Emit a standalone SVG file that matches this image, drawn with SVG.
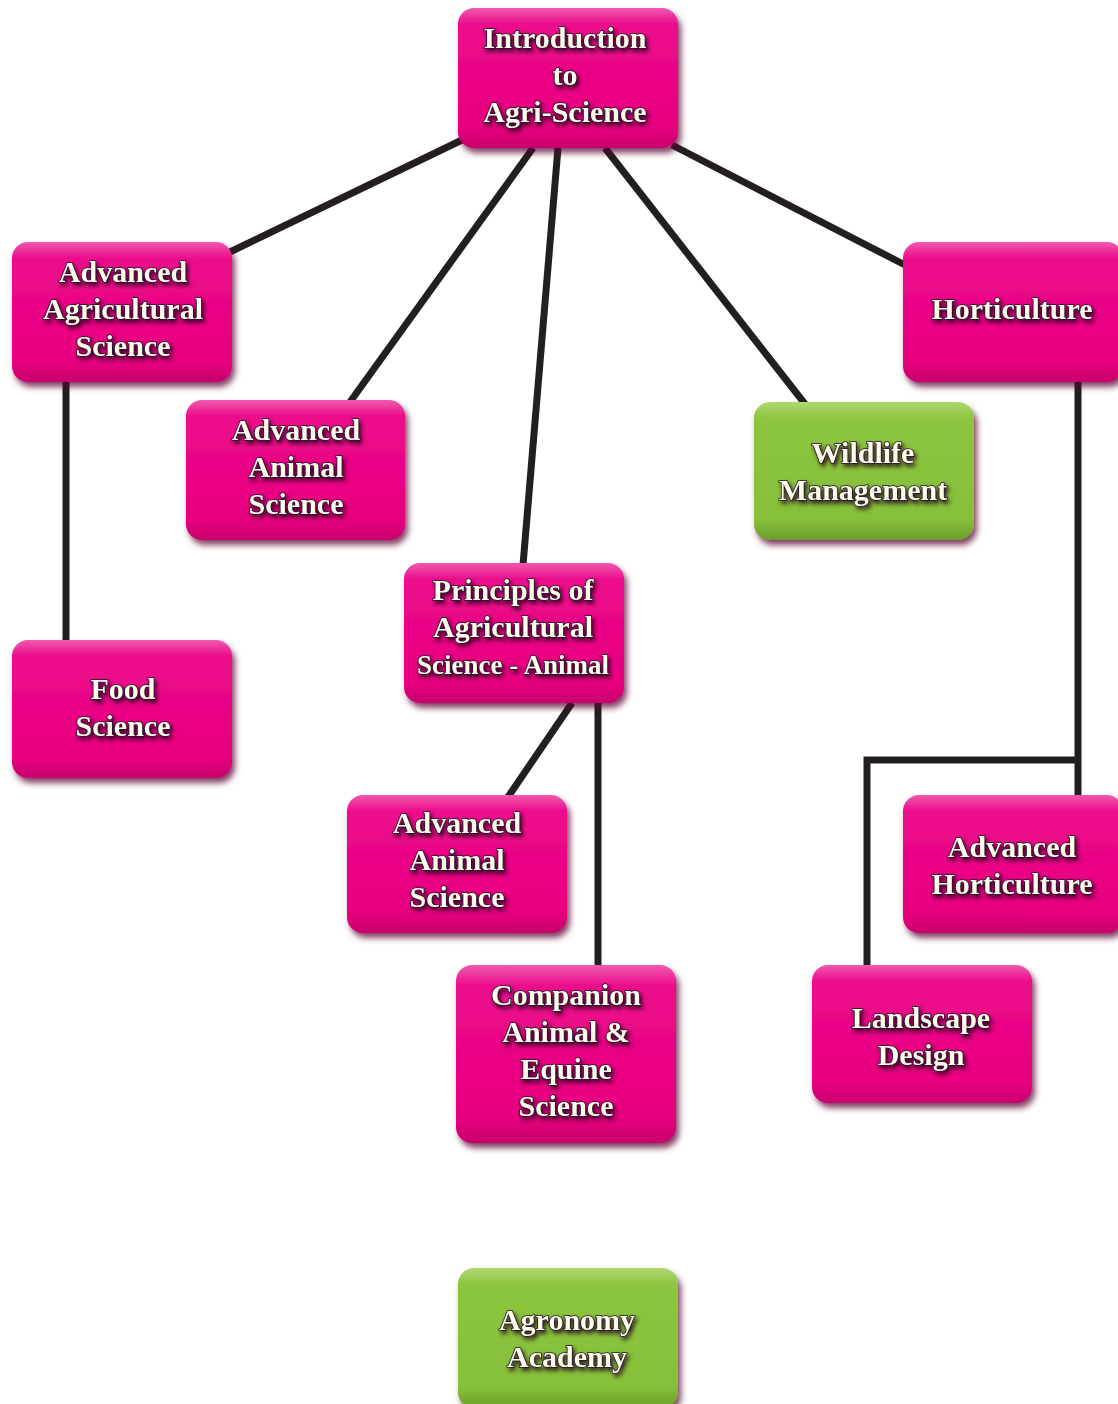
<svg xmlns="http://www.w3.org/2000/svg" width="1118" height="1404" viewBox="0 0 1118 1404">
<defs>
<linearGradient id="gm" x1="0" y1="0" x2="0" y2="1">
<stop offset="0" stop-color="#f05aae"/>
<stop offset="0.12" stop-color="#ec0a8c"/>
<stop offset="0.85" stop-color="#e8007f"/>
<stop offset="1" stop-color="#c8006c"/>
</linearGradient>
<linearGradient id="gg" x1="0" y1="0" x2="0" y2="1">
<stop offset="0" stop-color="#b0d870"/>
<stop offset="0.12" stop-color="#8cc53f"/>
<stop offset="0.85" stop-color="#86bf3a"/>
<stop offset="1" stop-color="#6a9e2a"/>
</linearGradient>
<filter id="sh" x="-10%" y="-10%" width="125%" height="130%">
<feGaussianBlur in="SourceAlpha" stdDeviation="3"/>
<feOffset dx="3" dy="5" result="b"/>
<feFlood flood-color="#5a0030" flood-opacity="0.75"/>
<feComposite in2="b" operator="in"/>
<feMerge><feMergeNode/><feMergeNode in="SourceGraphic"/></feMerge>
</filter>
<filter id="ts" x="-10%" y="-20%" width="125%" height="150%">
<feGaussianBlur in="SourceAlpha" stdDeviation="2"/>
<feOffset dx="2" dy="3" result="b"/>
<feFlood flood-color="#200018" flood-opacity="0.85"/>
<feComposite in2="b" operator="in"/>
<feMerge><feMergeNode/><feMergeNode in="SourceGraphic"/></feMerge>
</filter>
</defs>
<style>
.m{fill:url(#gm);filter:url(#sh)}
.g{fill:url(#gg);filter:url(#sh)}
text{font-family:"Liberation Serif","Times New Roman",serif;font-weight:bold;font-size:30px;fill:#fffbe8;stroke:#231530;stroke-width:1.6;paint-order:stroke;text-anchor:middle;filter:url(#ts)}
.c line,.c polyline{stroke:#231f20;stroke-width:7;fill:none;stroke-linecap:butt}
</style>
<g class="c" id="connectors">
<line x1="462" y1="140" x2="230" y2="252"/>
<line x1="533" y1="148" x2="350" y2="402"/>
<line x1="558" y1="148" x2="523" y2="565"/>
<line x1="605" y1="148" x2="805" y2="404"/>
<line x1="672" y1="145" x2="905" y2="265"/>
<line x1="66" y1="380" x2="66" y2="642"/>
<line x1="572" y1="703" x2="508" y2="797"/>
<line x1="598" y1="703" x2="598" y2="967"/>
<line x1="1078" y1="380" x2="1078" y2="797"/>
<polyline points="1078,760 867,760 867,967"/>
</g>
<g id="intro"><rect class="m" x="458" y="8" width="220" height="140" rx="16"/>
<text x="565" y="48">Introduction</text><text x="565" y="85">to</text><text x="565" y="122">Agri-Science</text></g>
<g id="adv-ag-sci"><rect class="m" x="12" y="242" width="220" height="140" rx="16"/>
<text x="123" y="282">Advanced</text><text x="123" y="319">Agricultural</text><text x="123" y="356">Science</text></g>
<g id="adv-animal-1"><rect class="m" x="186" y="400" width="219" height="140" rx="16"/>
<text x="296" y="440">Advanced</text><text x="296" y="477">Animal</text><text x="296" y="514">Science</text></g>
<g id="horticulture"><rect class="m" x="903" y="242" width="220" height="140" rx="16"/>
<text x="1012" y="319">Horticulture</text></g>
<g id="wildlife"><rect class="g" x="754" y="402" width="220" height="138" rx="16"/>
<text x="863" y="463">Wildlife</text><text x="863" y="500">Management</text></g>
<g id="principles"><rect class="m" x="404" y="563" width="220" height="140" rx="16"/>
<text x="513" y="600">Principles of</text><text x="513" y="637">Agricultural</text><text x="513" y="674" style="font-size:28px" textLength="192" lengthAdjust="spacingAndGlyphs">Science - Animal</text></g>
<g id="food-science"><rect class="m" x="12" y="640" width="220" height="138" rx="16"/>
<text x="123" y="699">Food</text><text x="123" y="736">Science</text></g>
<g id="adv-animal-2"><rect class="m" x="347" y="795" width="220" height="138" rx="16"/>
<text x="457" y="833">Advanced</text><text x="457" y="870">Animal</text><text x="457" y="907">Science</text></g>
<g id="adv-horticulture"><rect class="m" x="903" y="795" width="220" height="138" rx="16"/>
<text x="1012" y="857">Advanced</text><text x="1012" y="894">Horticulture</text></g>
<g id="companion"><rect class="m" x="456" y="965" width="220" height="178" rx="16"/>
<text x="566" y="1005">Companion</text><text x="566" y="1042">Animal &amp;</text><text x="566" y="1079">Equine</text><text x="566" y="1116">Science</text></g>
<g id="landscape"><rect class="m" x="812" y="965" width="220" height="138" rx="16"/>
<text x="921" y="1028">Landscape</text><text x="921" y="1065">Design</text></g>
<g id="agronomy"><rect class="g" x="458" y="1268" width="220" height="140" rx="16"/>
<text x="567" y="1330">Agronomy</text><text x="567" y="1367">Academy</text></g>
</svg>
